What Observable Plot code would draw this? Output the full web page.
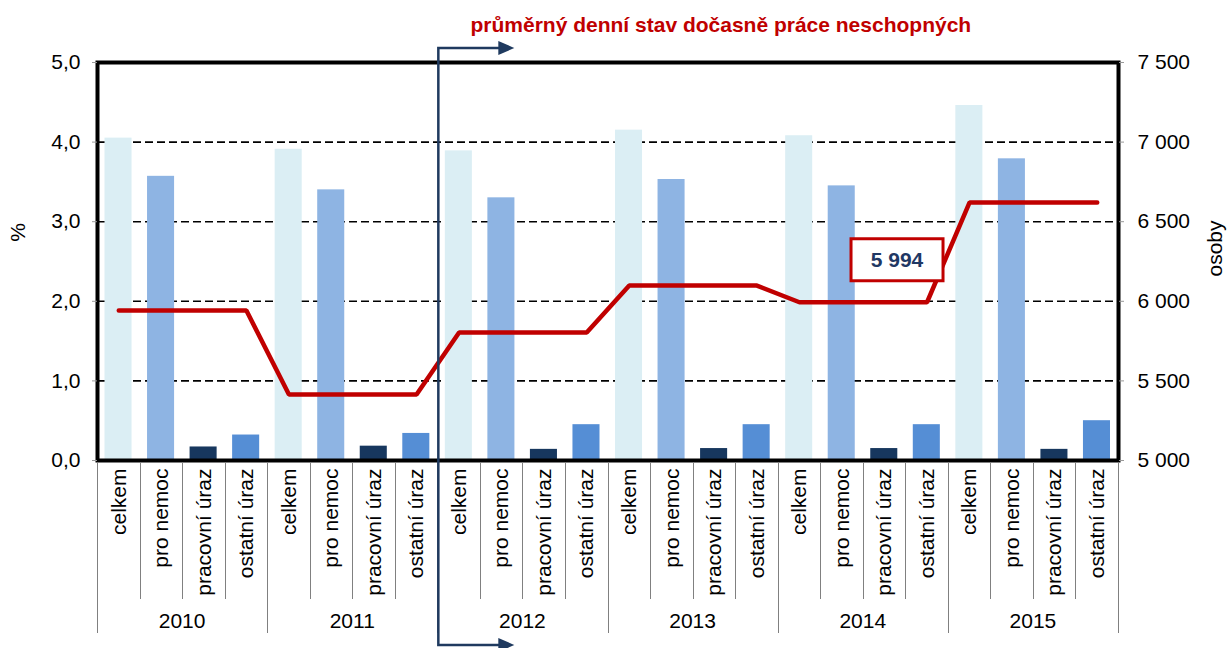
<!DOCTYPE html>
<html><head><meta charset="utf-8">
<script src="https://cdn.jsdelivr.net/npm/d3@7"></script>
<script src="https://cdn.jsdelivr.net/npm/@observablehq/plot@0.6"></script>
<style>
html,body{margin:0;padding:0;overflow:hidden;background:#fff}
svg{display:block}
</style>
</head><body><div id="chart"></div>
<script>
// ---- data ----
const years = ["2010", "2011", "2012", "2013", "2014", "2015"];
const categories = ["celkem", "pro nemoc", "pracovní úraz", "ostatní úraz"];
const celkem       = [4.05, 3.91, 3.89, 4.15, 4.08, 4.46];
const proNemoc     = [3.57, 3.40, 3.30, 3.53, 3.45, 3.79];
const pracovniUraz = [0.17, 0.18, 0.14, 0.15, 0.15, 0.14];
const ostatniUraz  = [0.32, 0.34, 0.45, 0.45, 0.45, 0.50];
const osoby        = [5942, 5415, 5804, 6099, 5994, 6621];
const leftTicks  = [0, 1, 2, 3, 4, 5];
const rightTicks = [5000, 5500, 6000, 6500, 7000, 7500];
const gridTicks  = [1, 2, 3, 4];
const titleText = "průměrný denní stav dočasně práce neschopných";
const leftLabel = "%";
const rightLabel = "osoby";
const highlightYear = "2014";
const highlightLabel = "5 994";
const colors = ["#DBEEF4", "#8EB4E3", "#17375E", "#558ED5"];

// ---- derived tables ----
const series = [celkem, proNemoc, pracovniUraz, ostatniUraz];
const keyOf = (y, c) => y + "|" + c;
const keys = years.flatMap(y => categories.map(c => keyOf(y, c)));
const bars = years.flatMap((y, i) => categories.map((c, j) => ({key: keyOf(y, c), cat: c, value: series[j][i]})));
const lineRows = years.flatMap((y, i) => categories.map(c => ({key: keyOf(y, c), v: osoby[i]})));
const rightMin = rightTicks[0];
const rightStep = (rightTicks[rightTicks.length - 1] - rightMin) / (leftTicks[leftTicks.length - 1] - leftTicks[0]);
const toPct = v => (v - rightMin) / rightStep;
const fmtRight = d3.formatLocale({decimal: ",", thousands: " ", grouping: [3], currency: ["", ""]}).format(",");

const FONT = "'Liberation Sans', Arial, sans-serif";
const FS = 21;
const W = 1230, H = 648, ML = 97, MR = 112, MT = 62, MB = 188;

function bandInfo(scales) {
  const x = scales.x;
  const a = x(keys[0]), b = x(keys[1]);
  const bw = b - a;
  const left = k => x(k) - (x.bandwidth ? 0 : bw / 2);
  return {bw, left};
}

// separators and year labels below the axis
function belowAxis(index, scales, values, dim) {
  const {bw, left} = bandInfo(scales);
  const y0 = dim.height - dim.marginBottom + 2;
  const g = d3.create("svg:g").attr("stroke", "#808080").attr("stroke-width", 1);
  keys.forEach((k, i) => {
    const xx = Math.round(left(k)) + 0.5;
    g.append("line").attr("x1", xx).attr("x2", xx).attr("y1", y0).attr("y2", y0 + (i % 4 === 0 ? 171 : 137));
  });
  const xr = Math.round(left(keys[keys.length - 1]) + bw) + 0.5;
  g.append("line").attr("x1", xr).attr("x2", xr).attr("y1", y0).attr("y2", y0 + 171);
  years.forEach(y => {
    g.append("text").attr("stroke", "none").attr("fill", "#000")
      .attr("x", left(keyOf(y, categories[2])))
      .attr("y", y0 + 159)
      .attr("dy", "0.35em")
      .attr("text-anchor", "middle")
      .attr("font-family", FONT).attr("font-size", FS)
      .text(y);
  });
  return g.node();
}

// arrow bracket at the start of 2012
function arrowMark(index, scales, values, dim) {
  const {left} = bandInfo(scales);
  const xa = left(keyOf(years[2], categories[0])) + 1;
  const yt = dim.marginTop - 14, yb = dim.height - 3;
  const col = "#1F3A5F";
  const g = d3.create("svg:g");
  g.append("path").attr("fill", "none").attr("stroke", col).attr("stroke-width", 2.5)
    .attr("d", `M${xa + 62},${yt}H${xa}V${yb}H${xa + 62}`);
  [yt, yb].forEach(yy => {
    g.append("path").attr("fill", col).attr("d", `M${xa + 60},${yy - 7}L${xa + 76},${yy}L${xa + 60},${yy + 7}Z`);
  });
  return g.node();
}

// highlight box for 2014
function highlightMark(index, scales, values, dim) {
  const {bw, left} = bandInfo(scales);
  const i = years.indexOf(highlightYear);
  const cx = left(keyOf(highlightYear, categories[2])) + bw / 2 + 13;
  const cy = scales.y(toPct(osoby[i])) - 42;
  const g = d3.create("svg:g");
  g.append("rect").attr("x", cx - 46).attr("y", cy - 21).attr("width", 92).attr("height", 42)
    .attr("fill", "#fff").attr("stroke", "#C00000").attr("stroke-width", 3);
  g.append("text").attr("x", cx).attr("y", cy).attr("dy", "0.36em").attr("text-anchor", "middle")
    .attr("font-family", FONT).attr("font-size", FS).attr("font-weight", "bold").attr("fill", "#1F3864")
    .text(highlightLabel);
  return g.node();
}

const chart = Plot.plot({
  width: W, height: H,
  marginLeft: ML, marginRight: MR, marginTop: MT, marginBottom: MB,
  style: {fontFamily: FONT, fontSize: FS + "px", color: "#000", background: "#fff"},
  x: {domain: keys, padding: 0, round: false, axis: null},
  y: {domain: [0, 5], axis: null},
  color: {domain: categories, range: colors},
  marks: [
    Plot.gridY(gridTicks, {stroke: "#000", strokeOpacity: 1, strokeWidth: 1.6, strokeDasharray: "8,4"}),
    Plot.barY(bars, {x: "key", y: "value", fill: "cat", insetLeft: 7.5, insetRight: 8}),
    Plot.line(lineRows, {x: "key", y: d => toPct(d.v), stroke: "#C00000", strokeWidth: 4.5, strokeLinejoin: "miter", strokeLinecap: "round"}),
    highlightMark,
    Plot.frame({stroke: "#000", strokeWidth: 4}),
    Plot.axisY(leftTicks, {anchor: "left", tickSize: 5, tickPadding: 12, stroke: "#999", fill: "#000", fontSize: FS,
      tickFormat: d => d.toFixed(1).replace(".", ","), label: null}),
    Plot.axisY(rightTicks.map(toPct), {anchor: "right", tickSize: 5, tickPadding: 14, stroke: "#999", fill: "#000", fontSize: FS,
      tickFormat: d => fmtRight(Math.round(rightMin + d * rightStep)), label: null}),
    Plot.axisX({anchor: "bottom", tickRotate: -90, tickSize: 0, tickPadding: 8, fontSize: FS, fill: "#000",
      tickFormat: d => d.split("|")[1], label: null}),
    belowAxis,
    arrowMark,
    Plot.text([leftLabel], {frameAnchor: "left", dx: -79, dy: -29, rotate: -90, textAnchor: "middle", lineAnchor: "middle", fontSize: FS, fill: "#000"}),
    Plot.text([rightLabel], {frameAnchor: "right", dx: 97, dy: -13, rotate: -90, textAnchor: "middle", lineAnchor: "middle", fontSize: FS, fill: "#000"}),
    Plot.text([titleText], {frameAnchor: "top-left", dx: 373, dy: -37, textAnchor: "start", lineAnchor: "middle", fill: "#C00000",
      fontWeight: "bold", fontSize: FS})
  ]
});
document.getElementById("chart").appendChild(chart);
</script>
</body></html>
